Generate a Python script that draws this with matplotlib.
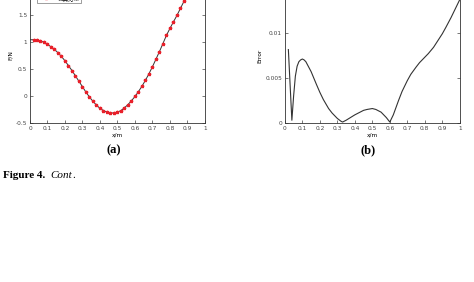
import matplotlib
matplotlib.use("Agg")
import matplotlib.pyplot as plt

plt.rcParams['font.family'] = ['DejaVu Sans', 'Noto Sans CJK SC']

# Panel (a): force distribution
x_a = [0.02, 0.04, 0.06, 0.08, 0.10, 0.12, 0.14, 0.16, 0.18, 0.20,
       0.22, 0.24, 0.26, 0.28, 0.30, 0.32, 0.34, 0.36, 0.38, 0.40,
       0.42, 0.44, 0.46, 0.48, 0.50, 0.52, 0.54, 0.56, 0.58, 0.60,
       0.62, 0.64, 0.66, 0.68, 0.70, 0.72, 0.74, 0.76, 0.78, 0.80,
       0.82, 0.84, 0.86, 0.88, 0.90, 0.92, 0.94, 0.96, 0.98]
F_a = [1.04, 1.035, 1.02, 0.99, 0.955, 0.91, 0.86, 0.80, 0.73, 0.65,
       0.56, 0.47, 0.37, 0.27, 0.17, 0.07, -0.02, -0.10, -0.17, -0.23,
       -0.27, -0.30, -0.315, -0.315, -0.30, -0.27, -0.22, -0.16, -0.09, -0.01,
       0.08, 0.18, 0.29, 0.41, 0.54, 0.68, 0.82, 0.97, 1.12, 1.25,
       1.37, 1.49, 1.62, 1.75, 1.87, 1.99, 2.10, 2.20, 2.30]

# Panel (b): error
x_b = [0.02, 0.03, 0.04, 0.05, 0.06, 0.07, 0.08, 0.09, 0.10, 0.11,
       0.12, 0.15, 0.18, 0.20, 0.22, 0.25, 0.27, 0.30, 0.32, 0.33,
       0.35, 0.40, 0.42, 0.45, 0.47, 0.50, 0.52, 0.55, 0.58, 0.60,
       0.62, 0.65, 0.67, 0.70, 0.72, 0.75, 0.77, 0.80, 0.82, 0.85,
       0.87, 0.90, 0.92, 0.95, 0.97, 1.00]
err_b = [0.00815, 0.0042, 0.0003, 0.0030, 0.0052, 0.0063, 0.0068, 0.0070, 0.0071, 0.0070,
         0.0068, 0.0057, 0.0043, 0.0034, 0.0026, 0.0016, 0.0011, 0.0005, 0.0002, 0.0001,
         0.0003, 0.0009, 0.0011, 0.0014, 0.0015, 0.0016, 0.0015, 0.0012, 0.0006, 0.0001,
         0.0009, 0.0025, 0.0035, 0.0047, 0.0054, 0.0062, 0.0067, 0.0073, 0.0077, 0.0084,
         0.0090, 0.0099, 0.0106, 0.0117, 0.0125, 0.0137]

xticks = [0, 0.1, 0.2, 0.3, 0.4, 0.5, 0.6, 0.7, 0.8, 0.9, 1]
xticklabels = ['0', '0.1', '0.2', '0.3', '0.4', '0.5', '0.6', '0.7', '0.8', '0.9', '1']
yticks_a = [-0.5, 0, 0.5, 1, 1.5, 2]
yticklabels_a = ['-0.5', '0', '0.5', '1', '1.5', '2']
yticks_b = [0, 0.005, 0.01, 0.015]
yticklabels_b = ['0', '0.005', '0.01', '0.015']

fig = plt.figure(figsize=(4.74, 2.82), dpi=100)

ax1 = fig.add_axes([0.0633, 0.564, 0.369, 0.479])
ax2 = fig.add_axes([0.601, 0.564, 0.369, 0.479])

tfs = 4.2
for ax in (ax1, ax2):
    ax.tick_params(direction='in', length=2, width=0.5, labelsize=tfs,
                   top=True, right=True, pad=2, colors='#444444')
    for s in ax.spines.values():
        s.set_linewidth(0.6)
        s.set_color('#333333')
    ax.set_xlim(0, 1)
    ax.set_xticks(xticks)
    ax.set_xticklabels(xticklabels)
    ax.set_xlabel('x/m', fontsize=tfs, labelpad=1)

ax1.plot([0.0] + x_a, [F_a[0]] + F_a, color='#333333', lw=0.7, label='解析结果')
ax1.plot(x_a, F_a, linestyle='none', marker='*', ms=2.4, color='#e8202a',
         label='仿真结果')
ax1.set_ylim(-0.5, 2)
ax1.set_yticks(yticks_a)
ax1.set_yticklabels(yticklabels_a)
ax1.set_ylabel('F/N', fontsize=tfs, labelpad=2)
leg = ax1.legend(loc='lower left', bbox_to_anchor=(0.025, 0.87),
                 prop={'family': ['Noto Sans CJK SC', 'DejaVu Sans'], 'size': 4},
                 frameon=True, fancybox=False, edgecolor='#555555',
                 borderpad=0.3, handlelength=2.6, labelspacing=0.3)
leg.get_frame().set_linewidth(0.5)

ax2.plot(x_b, err_b, color='#333333', lw=0.8)
ax2.set_ylim(0, 0.015)
ax2.set_yticks(yticks_b)
ax2.set_yticklabels(yticklabels_b)
ax2.set_ylabel('Error', fontsize=tfs, labelpad=2)

fig.text(0.239, 0.468, '(a)', fontsize=9, fontweight='bold', family='Liberation Serif',
         ha='center', va='center')
fig.text(0.777, 0.468, '(b)', fontsize=9, fontweight='bold', family='Liberation Serif',
         ha='center', va='center')
fig.text(0.006, 0.379, 'Figure 4.', fontsize=8, fontweight='bold',
         family='Liberation Serif', ha='left', va='center')
fig.text(0.106, 0.379, 'Cont', fontsize=8, style='italic',
         family='Liberation Serif', ha='left', va='center')
fig.text(0.152, 0.379, '.', fontsize=8, family='Liberation Serif',
         ha='left', va='center')

fig.savefig('out.png', dpi=100)
